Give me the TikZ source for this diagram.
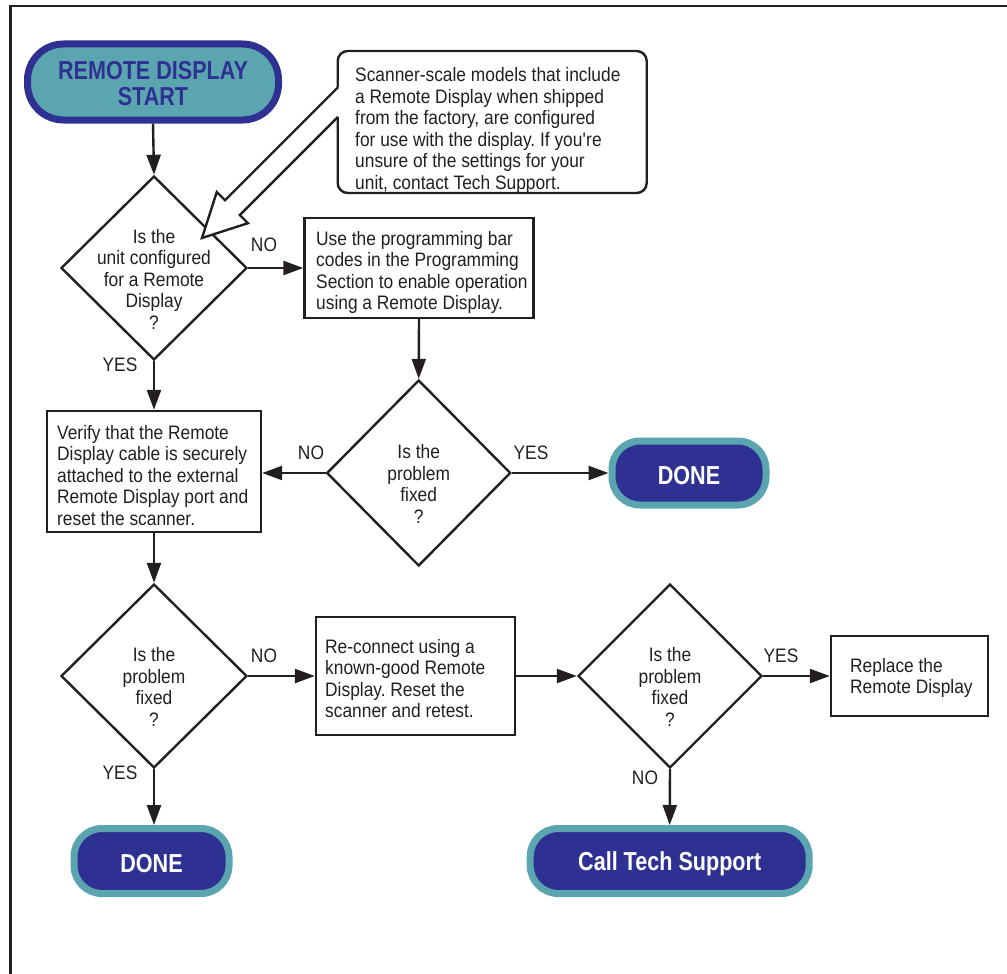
\documentclass[tikz,border=0pt]{standalone}
\usepackage{fontspec}
\setmainfont{Liberation Sans}[FakeStretch=0.89]
\newfontfamily\termfont{Liberation Sans}[FakeStretch=0.83]
\usetikzlibrary{arrows.meta,shapes.geometric}
\definecolor{dblue}{HTML}{2E3192}
\definecolor{tealc}{HTML}{5BA5B0}
\definecolor{ink}{HTML}{231F20}
\begin{document}
\frenchspacing
\begin{tikzpicture}[x=1pt,y=-1pt,
  txt/.style={font=\fontsize{19.5}{21.5}\selectfont\frenchspacing, text=ink},
  terminal/.style={rectangle, rounded corners=#1, line width=7pt, inner sep=0pt},
  termtext/.style={inner sep=0pt, font=\termfont\fontsize{26}{26}\selectfont\bfseries, align=center},
  startterm/.style={terminal=36pt, draw=dblue, fill=tealc},
  endterm/.style={terminal=28pt, draw=tealc, fill=dblue},
  dia/.style={diamond, draw=ink, line width=2.4pt, inner sep=0pt, fill=white},
  dtext/.style={txt, align=center, inner sep=0pt},
  stepbox/.style={rectangle, draw=ink, line width=2.4pt, inner sep=0pt},
  btext/.style={txt, align=left, inner sep=0pt, anchor=west},
  lbl/.style={txt, inner sep=0pt},
  arr/.style={draw=ink, line width=2.4pt, -{Triangle[length=20pt,width=14pt]}}
]
\useasboundingbox (0,0) rectangle (1007,974);
\draw[line width=2.5pt, ink] (10.5,980) -- (10.5,6.2) -- (1012,6.2);

% terminals
\node[startterm, minimum width=251pt, minimum height=76pt] (start) at (153,82) {};
\node[termtext, text=dblue] (startt) at ([yshift=-2pt]start.center) {REMOTE DISPLAY\\[0pt]START};
\node[endterm, minimum width=154pt, minimum height=64pt] (done1) at (689,473) {};
\node[termtext, text=white] (done1t) at ([yshift=-2.5pt]done1.center) {DONE};
\node[endterm, minimum width=155pt, minimum height=65pt] (done2) at (151.5,861) {};
\node[termtext, text=white] (done2t) at ([yshift=-2.5pt]done2.center) {DONE};
\node[endterm, minimum width=279pt, minimum height=65pt] (cts) at (669.7,861) {};
\node[termtext, text=white] (ctst) at ([yshift=-2.5pt]cts.center) {Call Tech Support};

% diamonds
\node[dia, minimum width=186pt, minimum height=184pt] (d1) at (154,268) {};
\node[dtext] (d1t) at ([yshift=-11pt]d1.center) {Is the\\unit configured\\for a Remote\\Display\\?};
\node[dia, minimum width=184pt, minimum height=186pt] (d2) at (418.7,473) {};
\node[dtext] (d2t) at ([yshift=-11pt]d2.center) {Is the\\problem\\fixed\\?};
\node[dia, minimum width=186pt, minimum height=184pt] (d3) at (154,676) {};
\node[dtext] (d3t) at ([yshift=-11pt]d3.center) {Is the\\problem\\fixed\\?};
\node[dia, minimum width=184pt, minimum height=184pt] (d4) at (670,676) {};
\node[dtext] (d4t) at ([yshift=-11pt]d4.center) {Is the\\problem\\fixed\\?};

% boxes
\node[stepbox, minimum width=229pt, minimum height=100pt] (box1) at (419,268) {};
\node[btext] (box1t) at (316,272.5)
  {Use the programming bar\\codes in the Programming\\Section to enable operation\\using a Remote Display.};
\node[stepbox, minimum width=214pt, minimum height=121pt] (box2) at (154,471.5) {};
\node[btext] (box2t) at (57,475.5)
  {Verify that the Remote\\Display cable is securely\\attached to the external\\Remote Display port and\\reset the scanner.};
\node[stepbox, minimum width=199pt, minimum height=118pt] (box3) at (415.5,676) {};
\node[btext] (box3t) at (325,678.5)
  {Re-connect using a\\known-good Remote\\Display. Reset the\\scanner and retest.};
\node[stepbox, minimum width=157pt, minimum height=80pt] (box4) at (909.5,676) {};
\node[btext] (box4t) at (850,678)
  {Replace the\\Remote Display};

% callout
\node[draw=ink, line width=2.4pt, rounded corners=10pt, fill=white,
  minimum width=309pt, minimum height=142pt, inner sep=0pt] (callout) at (492.2,122) {};
\node[txt, anchor=north west, align=left, inner sep=0pt] (callouttext) at (355,67.5)
  {Scanner-scale models that include\\a Remote Display when shipped\\from the factory, are configured\\for use with the display. If you\textquotesingle re\\unsure of the settings for your\\unit, contact Tech Support.};
\fill[white] (341,87.2) -- (338,87.2) -- (225.0,200.2) -- (216.8,192.0) -- (202,238)
  -- (248.0,223.2) -- (239.8,215.0) -- (338,116.8) -- (341,116.8) -- cycle;
\draw[ink, line width=2.4pt] (338,87.2) -- (225.0,200.2) -- (216.8,192.0) -- (202,238)
  -- (248.0,223.2) -- (239.8,215.0) -- (338,116.8);

% connectors
\draw[arr] (start.south) -- (d1.north);
\draw[arr] (d1.east) -- (box1.west);
\draw[arr] (box1.south) -- (d2.north);
\draw[arr] (d2.east) -- (done1.west);
\draw[arr] (d2.west) -- (d2.west -| box2.east);
\draw[arr] (d1.south) -- (box2.north);
\draw[arr] (box2.south) -- (d3.north);
\draw[arr] (d3.east) -- (box3.west);
\draw[arr] (box3.east) -- (d4.west);
\draw[arr] (d4.east) -- (box4.west);
\draw[arr] (d4.south) -- (cts.north);
\draw[arr] (d3.south) -- (d3.south |- done2.north);

% labels
\node[lbl] (l1no) at (264,245) {NO};
\node[lbl] (l1yes) at (120,364.5) {YES};
\node[lbl] (l2no) at (311,453) {NO};
\node[lbl] (l2yes) at (531,453) {YES};
\node[lbl] (l3no) at (264,656) {NO};
\node[lbl] (l3yes) at (120,773) {YES};
\node[lbl] (l4yes) at (781,656) {YES};
\node[lbl] (l4no) at (645,778) {NO};
\end{tikzpicture}
\end{document}
